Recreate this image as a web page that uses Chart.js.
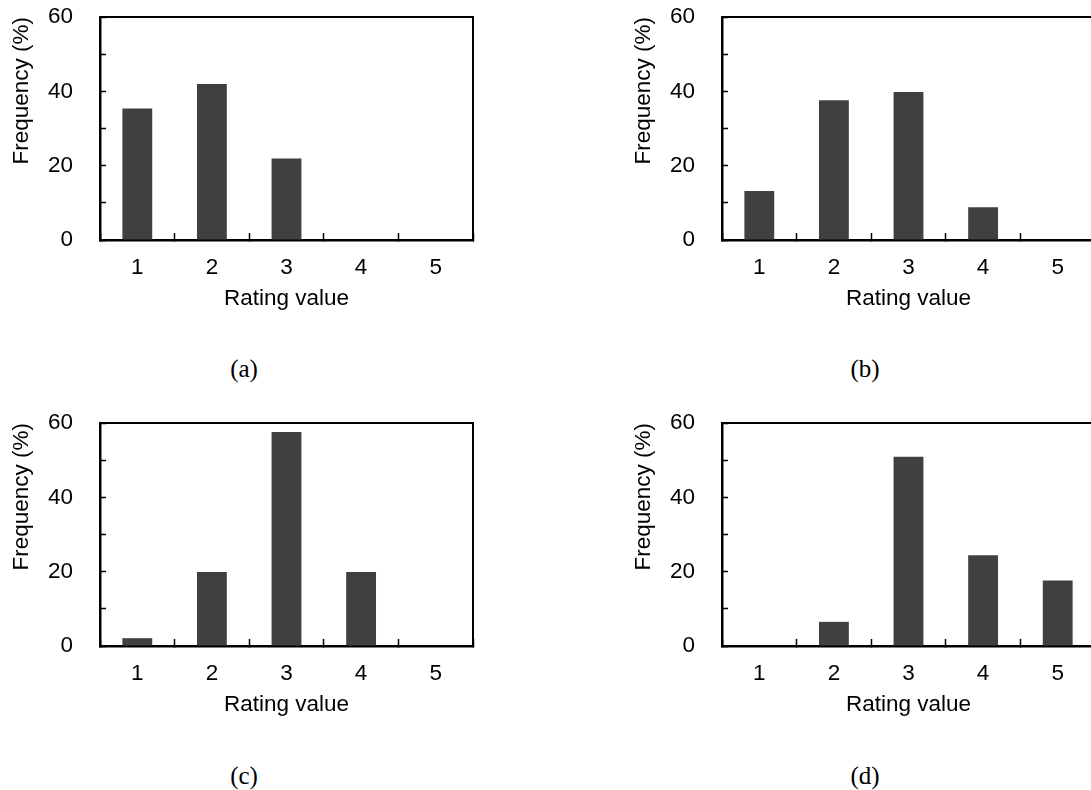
<!DOCTYPE html>
<html>
<head>
<meta charset="utf-8">
<script src="https://cdn.jsdelivr.net/npm/chart.js@4.4.0/dist/chart.umd.min.js"></script>
<style>
  html, body { margin: 0; padding: 0; background: #fff; }
  body { width: 1091px; height: 790px; overflow: hidden; position: relative; }
  canvas { position: absolute; }
  .cap { position: absolute; width: 100px; margin-left: -50px; text-align: center;
         font: 25px "Liberation Serif", "Times New Roman", serif; line-height: 28px; color: #000; }
</style>
</head>
<body>
<canvas id="chartA" width="545" height="340" style="left:0;top:0"></canvas>
<canvas id="chartB" width="545" height="340" style="left:622px;top:0"></canvas>
<canvas id="chartC" width="545" height="340" style="left:0;top:406px"></canvas>
<canvas id="chartD" width="545" height="340" style="left:622px;top:406px"></canvas>
<div class="cap" style="left:244px;top:355px">(a)</div>
<div class="cap" style="left:865px;top:355px">(b)</div>
<div class="cap" style="left:244px;top:762px">(c)</div>
<div class="cap" style="left:865px;top:762px">(d)</div>
<script>
// rating categories and frequency (%) of each panel
const ratings = ['1', '2', '3', '4', '5'];
const freqA = [35.4, 42.0, 21.9, 0, 0];
const freqB = [13.2, 37.6, 39.8, 8.8, 0];
const freqC = [2.1, 19.9, 57.6, 19.9, 0];
const freqD = [0, 6.5, 50.9, 24.4, 17.6];
const yMax = 60;
const yStep = 10;

const barColor = '#404040';
const fontFam = '"Liberation Sans", Arial, sans-serif';

Chart.defaults.font.family = fontFam;
Chart.defaults.color = '#000';

// top and right edges of the plot box
const frame = {
  id: 'frame',
  afterDraw(chart) {
    const { ctx, chartArea: a } = chart;
    ctx.save();
    ctx.strokeStyle = '#000';
    ctx.lineWidth = 2;
    ctx.beginPath();
    ctx.moveTo(a.left, a.top);
    ctx.lineTo(a.right, a.top);
    ctx.lineTo(a.right, a.bottom);
    ctx.stroke();
    ctx.restore();
  }
};

function makeChart(id, values) {
  new Chart(document.getElementById(id), {
    type: 'bar',
    data: {
      labels: ratings,
      datasets: [{
        data: values,
        backgroundColor: barColor,
        borderWidth: 0,
        barPercentage: 0.4,
        categoryPercentage: 1.0
      }]
    },
    options: {
      responsive: false,
      animation: false,
      events: [],
      layout: { padding: { left: 0, top: 17, right: 72, bottom: 0 } },
      plugins: { legend: { display: false }, tooltip: { enabled: false } },
      scales: {
        x: {
          offset: true,
          grid: { offset: true, drawOnChartArea: false, drawTicks: true, tickLength: -7,
                  tickColor: '#000', tickWidth: 1.5 },
          border: { display: true, color: '#000', width: 2.5 },
          ticks: { padding: 21, font: { size: 22.5 }, color: '#000', maxRotation: 0 },
          title: { display: true, text: 'Rating value', font: { size: 22.5 }, color: '#000',
                   padding: { top: 0, bottom: 28 } },
          afterFit: s => { s.height = 100; s.paddingLeft = 0; s.paddingRight = 0; }
        },
        y: {
          min: 0,
          max: yMax,
          grid: { drawOnChartArea: false, drawTicks: true, tickLength: -6,
                  tickColor: '#000', tickWidth: 1.5 },
          border: { display: true, color: '#000', width: 2.5 },
          ticks: { stepSize: yStep, padding: 33, font: { size: 22.5 }, color: '#000',
                   callback: v => (v % 20 === 0 ? v : '') },
          title: { display: true, text: 'Frequency (%)', align: 'end', font: { size: 22.5 },
                   color: '#000', padding: { top: 8, bottom: 0 } },
          afterFit: s => { s.width = 100; s.paddingTop = 0; s.paddingBottom = 0; }
        }
      }
    },
    plugins: [frame]
  });
}

makeChart('chartA', freqA);
makeChart('chartB', freqB);
makeChart('chartC', freqC);
makeChart('chartD', freqD);
</script>
</body>
</html>
